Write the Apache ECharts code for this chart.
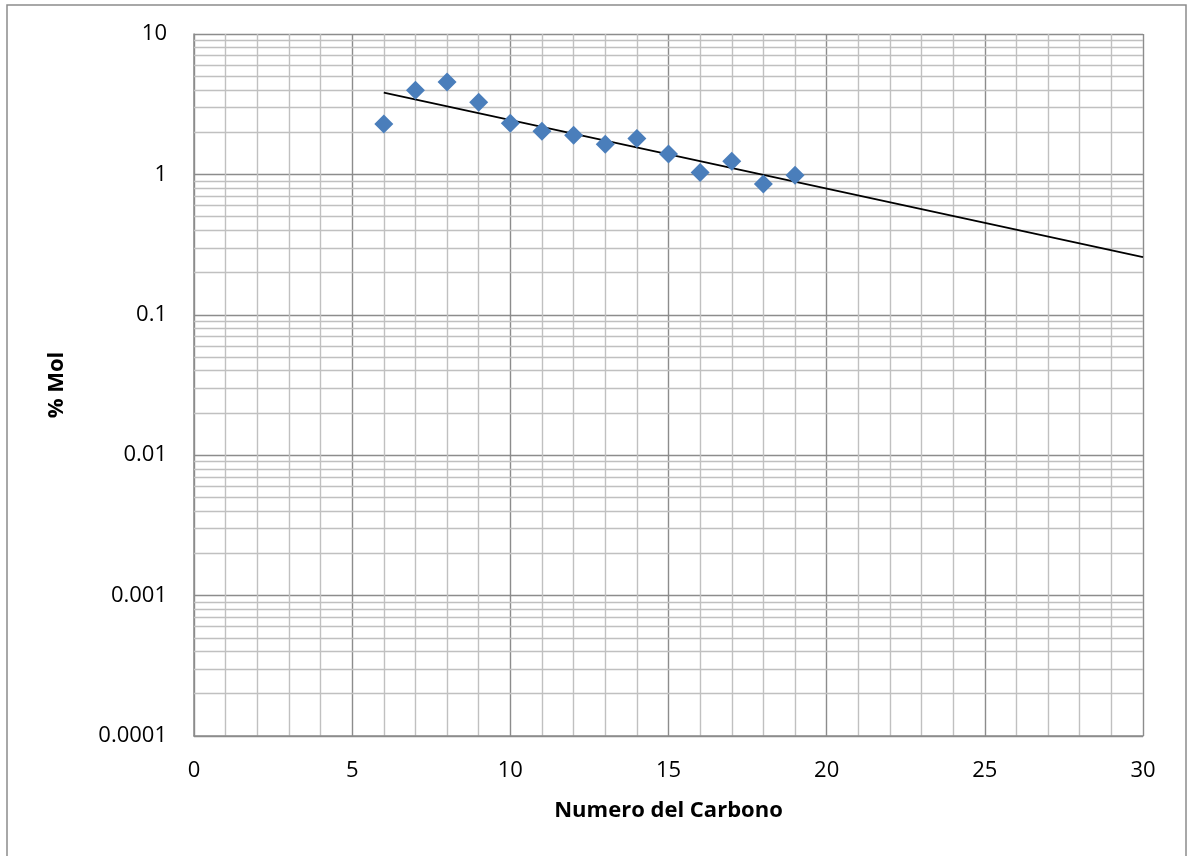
<!DOCTYPE html>
<html>
<head>
<meta charset="utf-8">
<script src="https://cdn.jsdelivr.net/npm/echarts@6/dist/echarts.min.js"></script>
<style>
html,body{margin:0;padding:0;background:#fff;}
#chart{width:1188px;height:856px;}
</style>
</head>
<body>
<div id="chart"></div>
<script>
var carbonNumbers = [6, 7, 8, 9, 10, 11, 12, 13, 14, 15, 16, 17, 18, 19];
var molPercent = [2.29, 3.97, 4.55, 3.26, 2.31, 2.03, 1.90, 1.64, 1.80, 1.40, 1.03, 1.24, 0.855, 0.985];
var trendX = [6, 30];
var trendY = [3.82, 0.258];
var yTickValues = [0.0001, 0.001, 0.01, 0.1, 1, 10];
var yTickLabels = ['0.0001', '0.001', '0.01', '0.1', '1', '10'];
var xTickLabels = ['0', '5', '10', '15', '20', '25', '30'];

var minorY = [];
for (var d = 0; d < yTickValues.length - 1; d++) {
  for (var m = 2; m <= 9; m++) minorY.push(yTickValues[d] * m);
}

var font = '"Open Sans", "Liberation Sans", sans-serif';
var chart = echarts.init(document.getElementById('chart'));
chart.setOption({
  animation: false,
  backgroundColor: '#ffffff',
  graphic: [{
    type: 'rect', shape: { x: 7, y: 5, width: 1179, height: 900 },
    style: { fill: 'none', stroke: '#8c8c8c', lineWidth: 1.5 }, silent: true, z: -10
  }],
  grid: { left: 194, right: 45, top: 34, bottom: 120, containLabel: false },
  xAxis: {
    type: 'value', min: 0, max: 30, interval: 5,
    name: 'Numero del Carbono', nameLocation: 'middle', nameGap: 64,
    nameTextStyle: { fontFamily: font, fontSize: 22, fontWeight: 'bold', color: '#000' },
    axisLine: { show: true, onZero: false, lineStyle: { color: '#8c8c8c', width: 1.5 } },
    axisTick: { show: false },
    axisLabel: {
      margin: 24, fontFamily: font, fontSize: 22, color: '#000',
      formatter: function (v) { return xTickLabels[Math.round(v / 5)]; }
    },
    splitLine: { show: true, lineStyle: { color: '#8c8c8c', width: 1.4 } },
    minorTick: { show: false, splitNumber: 5 },
    minorSplitLine: { show: true, lineStyle: { color: '#c0c0c0', width: 1.4 } }
  },
  yAxis: {
    type: 'log', logBase: 10, min: 0.0001, max: 10,
    name: '% Mol', nameLocation: 'middle', nameGap: 126, nameRotate: 90,
    nameTextStyle: { fontFamily: font, fontSize: 22, fontWeight: 'bold', color: '#000' },
    axisLine: { show: true, lineStyle: { color: '#8c8c8c', width: 1.5 } },
    axisTick: { show: false },
    axisLabel: {
      margin: 27, fontFamily: font, fontSize: 22, color: '#000',
      formatter: function (v) {
        var lv = Math.log10(v), best = 0, bd = 1e9;
        for (var i = 0; i < yTickValues.length; i++) {
          var dd = Math.abs(Math.log10(yTickValues[i]) - lv);
          if (dd < bd) { bd = dd; best = i; }
        }
        return yTickLabels[best];
      }
    },
    splitLine: { show: true, lineStyle: { color: '#8c8c8c', width: 1.4 } }
  },
  series: [
    {
      type: 'lines', coordinateSystem: 'cartesian2d', z: 1, silent: true,
      polyline: false,
      lineStyle: { color: '#c0c0c0', width: 1.4, opacity: 1 },
      data: minorY.map(function (v) { return { coords: [[0, v], [30, v]] }; })
    },
    {
      type: 'line', z: 3, showSymbol: false, symbol: 'none',
      data: trendX.map(function (x, i) { return [x, trendY[i]]; }),
      lineStyle: { color: '#000', width: 1.8 }
    },
    {
      type: 'scatter', z: 4, symbol: 'diamond', symbolSize: 19,
      data: carbonNumbers.map(function (x, i) { return [x, molPercent[i]]; }),
      itemStyle: { color: '#4a7ebb', opacity: 1 }
    }
  ]
});
</script>
</body>
</html>
